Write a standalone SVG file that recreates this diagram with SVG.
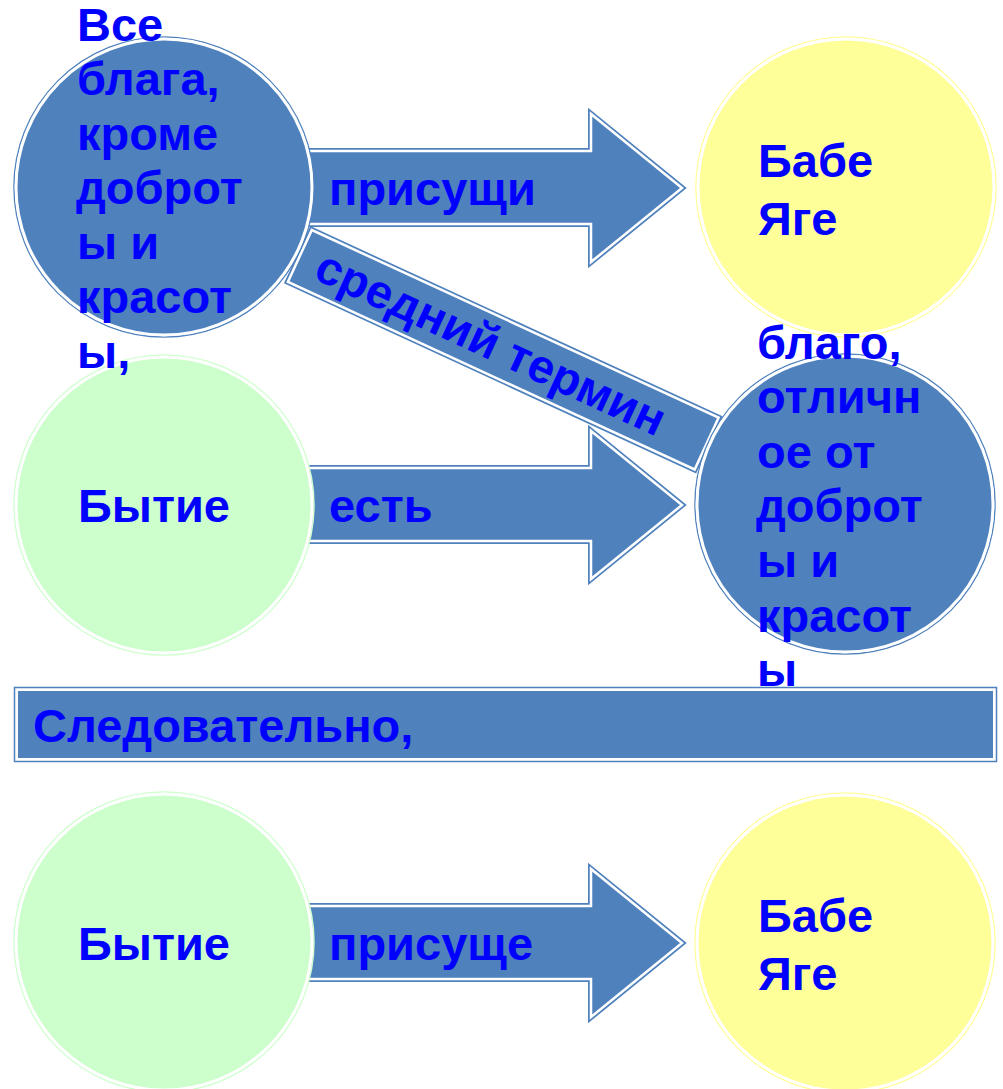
<svg xmlns="http://www.w3.org/2000/svg" width="1003" height="1089" viewBox="0 0 1003 1089">
<style>
.t{font-family:"Liberation Sans",Arial,sans-serif;font-weight:bold;font-size:47px;fill:#0000FF}
.ob{fill:none;stroke:#4F81BD;stroke-width:1.5}
.og{fill:none;stroke:#CCFFCC;stroke-width:1.5}
.oy{fill:none;stroke:#FFFF99;stroke-width:1.5}
.fb{fill:#4F81BD;stroke:#fff;stroke-width:3}
.fg{fill:#CCFFCC;stroke:#fff;stroke-width:3}
.fy{fill:#FFFF99;stroke:#fff;stroke-width:3}
.ab{fill:#4F81BD;stroke:#4F81BD;stroke-width:6;stroke-linejoin:miter}
.aw{fill:#4F81BD;stroke:#fff;stroke-width:2.5;stroke-linejoin:miter}
</style>
<rect width="1003" height="1089" fill="#fff"/>
<g id="connectors">
  <g id="band" transform="translate(503.25 349.75) rotate(24.77)">
    <rect class="ab" x="-224" y="-28.5" width="448" height="57"/>
    <rect class="aw" x="-224" y="-28.5" width="448" height="57"/>
    <text class="t" x="-14" y="15" text-anchor="middle">средний термин</text>
  </g>
  <g id="arrow1">
    <polygon class="ab" points="300,151 591,151 591,114 682,188 591,262 591,224 300,224"/>
    <polygon class="aw" points="300,151 591,151 591,114 682,188 591,262 591,224 300,224"/>
    <text class="t" x="329" y="205">присущи</text>
  </g>
  <g id="arrow2">
    <polygon class="ab" points="300,468 591,468 591,431 682,505 591,579 591,541 300,541"/>
    <polygon class="aw" points="300,468 591,468 591,431 682,505 591,579 591,541 300,541"/>
    <text class="t" x="329" y="522">есть</text>
  </g>
  <g id="arrow3">
    <polygon class="ab" points="300,906 591,906 591,869 682,943 591,1017 591,979 300,979"/>
    <polygon class="aw" points="300,906 591,906 591,869 682,943 591,1017 591,979 300,979"/>
    <text class="t" x="329" y="960">присуще</text>
  </g>
</g>
<g id="n1">
  <circle class="ob" cx="164" cy="187" r="150"/>
  <circle class="fb" cx="164" cy="187" r="148"/>
</g>
<g id="n2">
  <circle class="oy" cx="846" cy="187" r="150"/>
  <circle class="fy" cx="846" cy="187" r="148"/>
  <text class="t" x="758" y="177">Бабе</text>
  <text class="t" x="758" y="235">Яге</text>
</g>
<g id="n3">
  <circle class="og" cx="164" cy="505" r="150"/>
  <circle class="fg" cx="164" cy="505" r="148"/>
  <text class="t" x="78" y="522">Бытие</text>
</g>
<g id="n4">
  <circle class="ob" cx="845" cy="504" r="150"/>
  <circle class="fb" cx="845" cy="504" r="148"/>
</g>
<g id="n1text">
  <text class="t" x="77" y="41">Все</text>
  <text class="t" x="77" y="95">блага,</text>
  <text class="t" x="77" y="150">кроме</text>
  <text class="t" x="76" y="204">доброт</text>
  <text class="t" x="77" y="259">ы и</text>
  <text class="t" x="77" y="313">красот</text>
  <text class="t" x="77" y="368">ы,</text>
</g>
<g id="n4text">
  <text class="t" x="757" y="359">благо,</text>
  <text class="t" x="757" y="413">отличн</text>
  <text class="t" x="757" y="468">ое от</text>
  <text class="t" x="756" y="522">доброт</text>
  <text class="t" x="757" y="577">ы и</text>
  <text class="t" x="757" y="632">красот</text>
  <text class="t" x="757" y="686">ы</text>
</g>
<g id="n5">
  <rect x="14.5" y="687.5" width="982" height="74" fill="none" stroke="#4F81BD" stroke-width="1.5"/>
  <rect x="17" y="690" width="977" height="69" fill="#4F81BD" stroke="#fff" stroke-width="2"/>
  <text class="t" x="33" y="742">Следовательно,</text>
</g>
<g id="n6">
  <circle class="og" cx="164" cy="942" r="150"/>
  <circle class="fg" cx="164" cy="942" r="148"/>
  <text class="t" x="78" y="960">Бытие</text>
</g>
<g id="n7">
  <circle class="oy" cx="845" cy="943" r="150"/>
  <circle class="fy" cx="845" cy="943" r="148"/>
  <text class="t" x="758" y="932">Бабе</text>
  <text class="t" x="758" y="990">Яге</text>
</g>
</svg>
